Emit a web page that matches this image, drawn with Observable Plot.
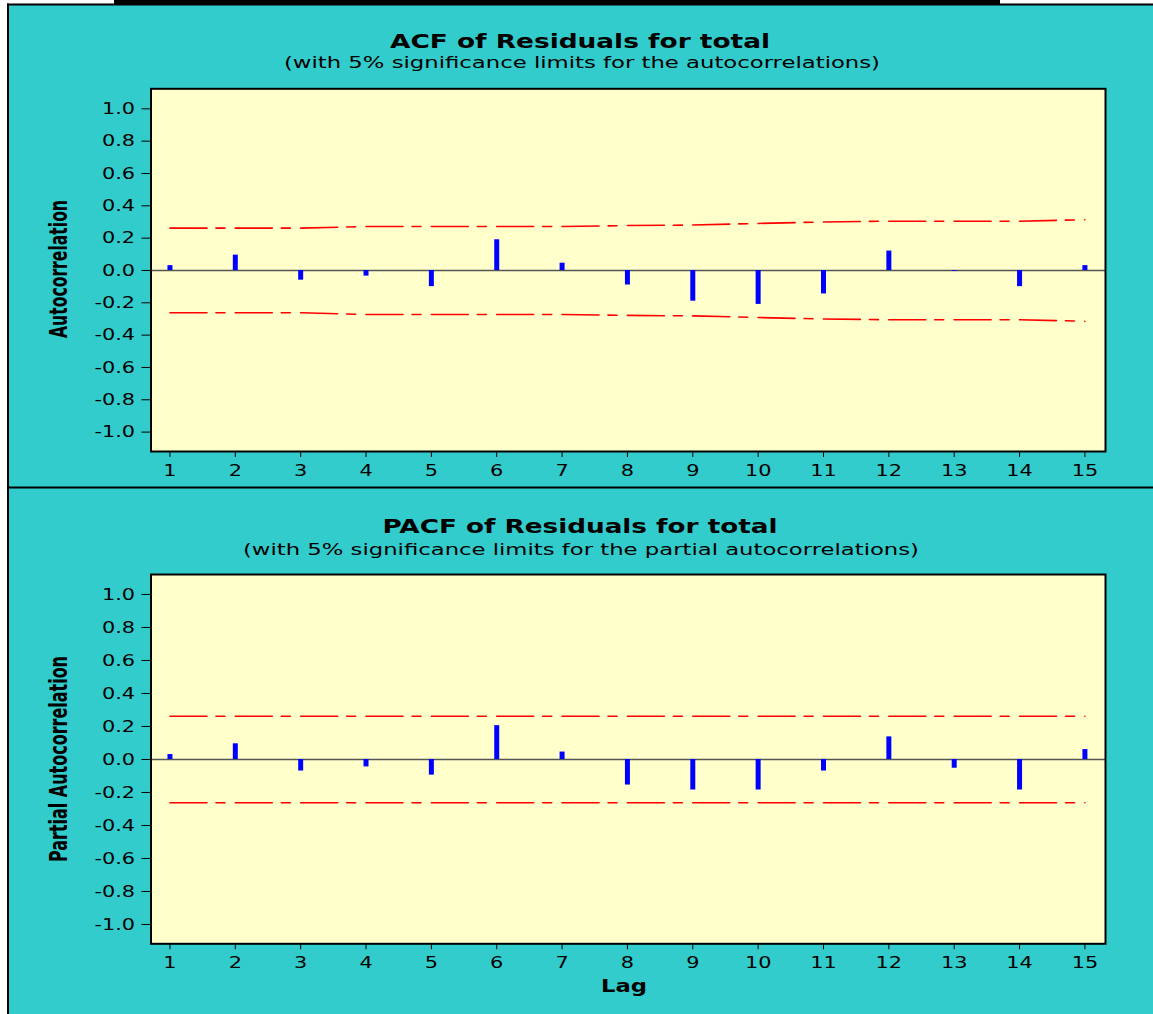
<!DOCTYPE html>
<html>
<head>
<meta charset="utf-8">
<script src="https://cdn.jsdelivr.net/npm/d3@7"></script>
<script src="https://cdn.jsdelivr.net/npm/@observablehq/plot@0.6"></script>
<style>
  html, body { margin: 0; padding: 0; background: #ffffff; }
  #page { position: relative; width: 1153px; height: 1014px; overflow: hidden; }
  #bg { position: absolute; left: 0; top: 0; }
  #acf { position: absolute; left: 0; top: 70px; width: 1153px; }
  #pacf { position: absolute; left: 0; top: 565px; width: 1153px; }
</style>
</head>
<body>
<div id="page">
  <svg id="bg" width="1153" height="1014"></svg>
  <div id="acf"></div>
  <div id="pacf"></div>
</div>
<script>
// ---- data ----
const lags = [1, 2, 3, 4, 5, 6, 7, 8, 9, 10, 11, 12, 13, 14, 15];
const acf = [0.03, 0.095, -0.06, -0.035, -0.10, 0.19, 0.045, -0.09, -0.19, -0.21, -0.145, 0.12, -0.005, -0.10, 0.03];
const acfLimit = [0.262, 0.262, 0.262, 0.272, 0.272, 0.272, 0.272, 0.278, 0.281, 0.291, 0.300, 0.305, 0.305, 0.305, 0.314];
const pacf = [0.03, 0.095, -0.07, -0.045, -0.095, 0.205, 0.045, -0.155, -0.185, -0.185, -0.07, 0.137, -0.053, -0.185, 0.06];
const pacfLimit = [0.262, 0.262, 0.262, 0.262, 0.262, 0.262, 0.262, 0.262, 0.262, 0.262, 0.262, 0.262, 0.262, 0.262, 0.262];
const yTicks = [-1.0, -0.8, -0.6, -0.4, -0.2, 0.0, 0.2, 0.4, 0.6, 0.8, 1.0];
const lagTicks = [1, 2, 3, 4, 5, 6, 7, 8, 9, 10, 11, 12, 13, 14, 15];

const TEAL = "#33cccc", YELLOW = "#ffffcc", BLUE = "#0000ff", RED = "#ff0000";
const SANS = "'DejaVu Sans', Verdana, sans-serif";
const NARROW = "'Liberation Sans Narrow', 'DejaVu Sans Condensed', 'Arial Narrow', sans-serif";

// ---- background, borders and titles ----
const bg = d3.select("#bg");
bg.append("rect").attr("x", 7).attr("y", 4).attr("width", 1146).attr("height", 1010).attr("fill", TEAL);
bg.append("rect").attr("x", 114).attr("y", 0).attr("width", 886).attr("height", 4).attr("fill", "#000");
bg.append("rect").attr("x", 7).attr("y", 3.5).attr("width", 1146).attr("height", 2).attr("fill", "#000");
bg.append("rect").attr("x", 7).attr("y", 3.5).attr("width", 2).attr("height", 1011).attr("fill", "#000");
bg.append("rect").attr("x", 7).attr("y", 486.5).attr("width", 1146).attr("height", 2).attr("fill", "#000");

function title(txt, x, y, size, weight, len) {
  bg.append("text").attr("x", x).attr("y", y)
    .attr("text-anchor", "middle")
    .attr("textLength", len).attr("lengthAdjust", "spacingAndGlyphs")
    .style("font-family", SANS).style("font-size", size + "px").style("font-weight", weight)
    .attr("fill", "#000").text(txt);
}
title("ACF of Residuals for total", 580, 47.7, 20, "bold", 380);
title("(with 5% significance limits for the autocorrelations)", 582, 68.3, 15, "normal", 596);
title("PACF of Residuals for total", 580, 532.7, 20, "bold", 395);
title("(with 5% significance limits for the partial autocorrelations)", 581, 555, 15, "normal", 676);

// ---- panels ----
function panel(values, limits, opt) {
  const rows = lags.map((lag, i) => ({lag, value: values[i], upper: limits[i], lower: -limits[i]}));
  return Plot.plot({
    width: 1153,
    height: opt.height,
    marginLeft: 150.5,
    marginRight: 48,
    marginTop: opt.marginTop,
    marginBottom: opt.marginBottom,
    style: {background: "transparent", color: "#000", fontFamily: SANS, fontSize: "16px"},
    x: {domain: [0.71, 15.315], ticks: lagTicks, tickFormat: d => String(d), tickSize: 6, tickPadding: 7, label: null},
    y: {domain: opt.yDomain, ticks: yTicks, tickFormat: d => d.toFixed(1), tickSize: 9, tickPadding: 7, label: null},
    marks: [
      Plot.frame({fill: YELLOW}),
      Plot.ruleY([0], {stroke: "#555555", strokeWidth: 1.6}),
      Plot.line(rows, {x: "lag", y: "upper", stroke: RED, strokeWidth: 1.6, strokeDasharray: "37,9,9,10.35"}),
      Plot.line(rows, {x: "lag", y: "lower", stroke: RED, strokeWidth: 1.6, strokeDasharray: "37,9,9,10.35"}),
      Plot.ruleX(rows, {x: "lag", y1: 0, y2: "value", stroke: BLUE, strokeWidth: 5}),
      Plot.frame({stroke: "#000", strokeWidth: 2})
    ]
  });
}

function stretch(svg, k) {
  d3.select(svg).selectAll("g[aria-label$='tick label'] text").each(function() {
    const w = this.getComputedTextLength();
    this.setAttribute("textLength", (w * k).toFixed(2));
    this.setAttribute("lengthAdjust", "spacingAndGlyphs");
  });
}

function ylabel(svg, txt, cy, len) {
  d3.select(svg).append("text")
    .attr("transform", `translate(66.5,${cy}) rotate(-90)`)
    .attr("text-anchor", "middle")
    .attr("textLength", len).attr("lengthAdjust", "spacingAndGlyphs")
    .style("font-family", NARROW).style("font-weight", "bold").style("font-size", "24px")
    .attr("fill", "#000").text(txt);
}

const acfSvg = panel(acf, acfLimit, {height: 415, marginTop: 18.3, marginBottom: 34, yDomain: [-1.12, 1.124]});
document.getElementById("acf").appendChild(acfSvg);
stretch(acfSvg, 1.3);
ylabel(acfSvg, "Autocorrelation", 199, 138);

const pacfSvg = panel(pacf, pacfLimit, {height: 449, marginTop: 9, marginBottom: 70.7, yDomain: [-1.117, 1.121]});
document.getElementById("pacf").appendChild(pacfSvg);
stretch(pacfSvg, 1.3);
ylabel(pacfSvg, "Partial Autocorrelation", 194, 206);
d3.select(pacfSvg).append("text")
  .attr("x", 624).attr("y", 426.7)
  .attr("text-anchor", "middle")
  .attr("textLength", 46).attr("lengthAdjust", "spacingAndGlyphs")
  .style("font-family", SANS).style("font-weight", "bold").style("font-size", "17px")
  .attr("fill", "#000").text("Lag");
</script>
</body>
</html>
